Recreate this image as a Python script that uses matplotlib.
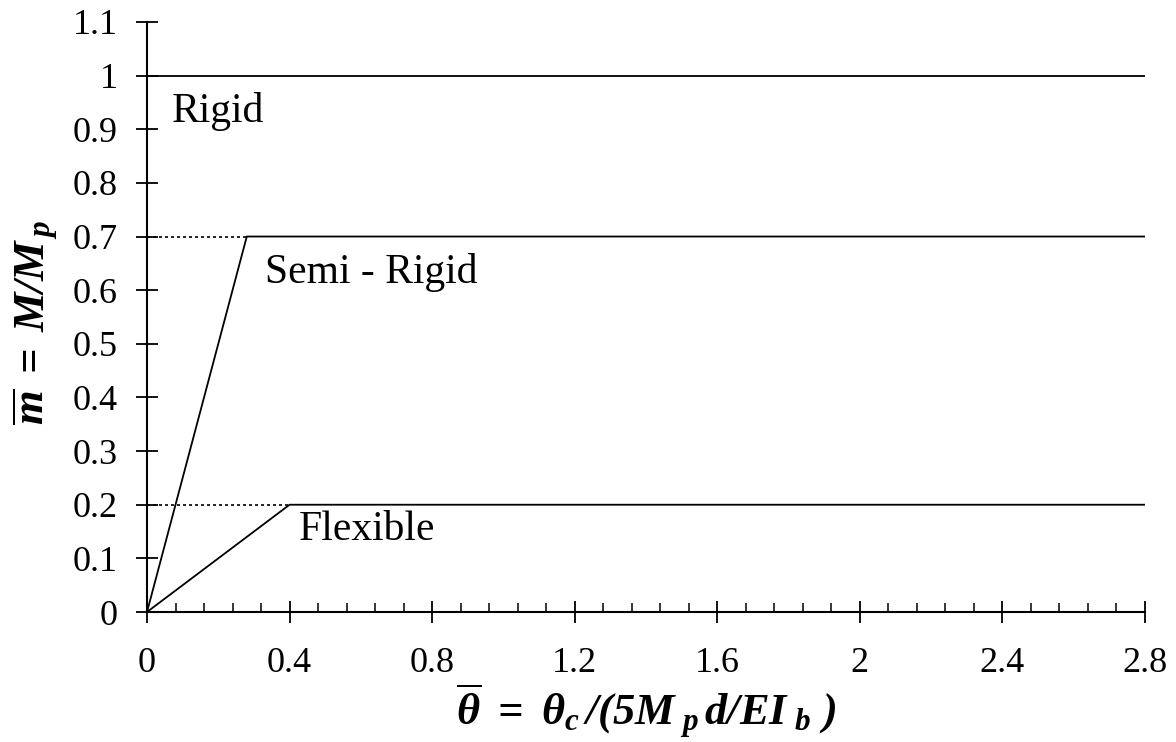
import numpy as np
import matplotlib
matplotlib.use('Agg')
import matplotlib.pyplot as plt
from matplotlib.ticker import MultipleLocator, FuncFormatter

plt.rcParams['font.family'] = ['Liberation Serif', 'DejaVu Serif']
plt.rcParams['mathtext.fontset'] = 'custom'
plt.rcParams['mathtext.rm'] = 'Liberation Serif:bold:italic'
plt.rcParams['mathtext.it'] = 'Liberation Serif:bold:italic'
plt.rcParams['mathtext.bf'] = 'Liberation Serif:bold:italic'

# connection curves (theta_bar, m_bar)
rigid_x = [0, 0, 2.8]
rigid_y = [0, 1.0, 1.0]
semi_x = [0, 0.28, 2.8]
semi_y = [0, 0.7, 0.7]
flex_x = [0, 0.4, 2.8]
flex_y = [0, 0.2, 0.2]

# dotted guides to the knees
semi_guide_x = [0, 0.28]
semi_guide_y = [0.7, 0.7]
flex_guide_x = [0, 0.4]
flex_guide_y = [0.2, 0.2]

labels = ['Rigid', 'Semi - Rigid', 'Flexible']
label_x = [0.07, 0.33, 0.425]
label_y = [0.913, 0.613, 0.134]

fig = plt.figure(figsize=(11.76, 7.42), dpi=100)
ax = fig.add_axes([0.125, 0.1752, 0.8486, 0.7952])

lw = 1.3
ax.plot(rigid_x, rigid_y, color='black', lw=lw)
ax.plot(semi_x, semi_y, color='black', lw=lw)
ax.plot(flex_x, flex_y, color='black', lw=lw)
ax.plot(semi_guide_x, semi_guide_y, color='black', lw=1.2, ls=(0, (1.8, 1.8)))
ax.plot(flex_guide_x, flex_guide_y, color='black', lw=1.2, ls=(0, (1.8, 1.8)))

for t, x, y in zip(labels, label_x, label_y):
    ax.text(x, y, t, fontsize=30, va='baseline', ha='left')

ax.set_xlim(0, 2.8)
ax.set_ylim(0, 1.1)
ax.spines['top'].set_visible(False)
ax.spines['right'].set_visible(False)
ax.spines['left'].set_linewidth(1.5)
ax.spines['bottom'].set_linewidth(1.5)

ax.xaxis.set_major_locator(MultipleLocator(0.4))
ax.xaxis.set_minor_locator(MultipleLocator(0.08))
ax.yaxis.set_major_locator(MultipleLocator(0.1))

fmt = FuncFormatter(lambda v, p: ('%.1f' % v).rstrip('0').rstrip('.') if abs(v) > 1e-9 else '0')
ax.xaxis.set_major_formatter(fmt)
ax.yaxis.set_major_formatter(fmt)

ax.tick_params(axis='x', which='major', direction='inout', length=16, width=1.3,
               labelsize=26, pad=17)
ax.tick_params(axis='x', which='minor', direction='in', length=6.5, width=1.1)
ax.tick_params(axis='y', which='major', direction='inout', length=16, width=1.3,
               labelsize=26, pad=13)

ax.set_xlabel(r'$\overline{\theta}\ =\ \theta_{c}\,/(5M_{\ p}\,d/EI_{\ b}\ )$', fontsize=32)
ax.set_ylabel(r'$\overline{m}\;=\;M/M_{\,p}$', fontsize=32)
ax.xaxis.set_label_coords(0.5, -0.118)
ax.yaxis.set_label_coords(-0.087, 0.49)

fig.savefig('out.png', dpi=100)
